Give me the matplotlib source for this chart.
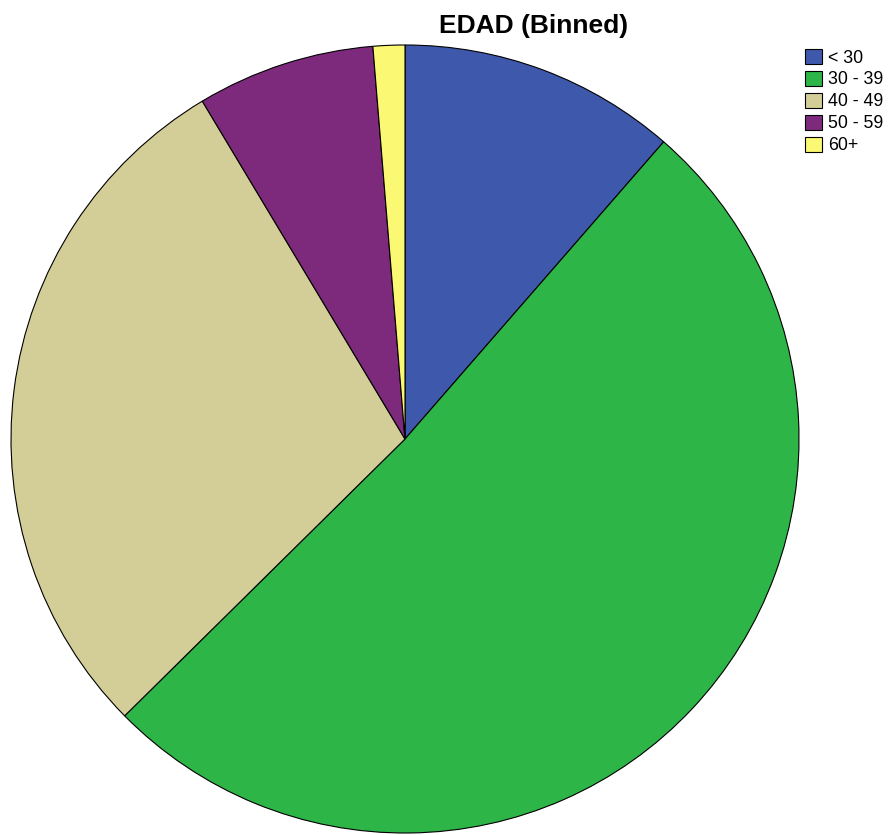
import matplotlib.pyplot as plt
from matplotlib.patches import Patch

plt.rcParams['font.family'] = ['Liberation Sans', 'DejaVu Sans']

labels = ['< 30', '30 - 39', '40 - 49', '50 - 59', '60+']
percent = [11.4, 51.2, 28.8, 7.3, 1.3]
colors = ['#3E58AC', '#2EB548', '#D3CE97', '#7D2A7D', '#FBF873']

fig = plt.figure(figsize=(8.88, 8.35), dpi=100)
ax = fig.add_axes([11 / 888, 2 / 835, 788 / 888, 788 / 835])
ax.pie(percent, colors=colors, startangle=90, counterclock=False, radius=1,
       wedgeprops=dict(edgecolor='black', linewidth=0.8))
ax.set_xlim(-1.0, 1.0)
ax.set_ylim(-1.0, 1.0)
ax.set_aspect('equal')
ax.axis('off')

# title sits right of the pie centre
fig.text(534 / 888, 1 - 33 / 835, 'EDAD (Binned)', ha='center', va='baseline',
         fontsize=19, fontweight='bold')

handles = [Patch(facecolor=c, edgecolor='black', linewidth=0.8) for c in colors]
fig.legend(handles, labels, loc='upper left', bbox_to_anchor=(805 / 888, 1 - 49 / 835),
           frameon=False, fontsize=12.8, handlelength=0.95, handleheight=0.9,
           handletextpad=0.33, labelspacing=0.25, borderaxespad=0, borderpad=0)

fig.savefig('out.png', dpi=100)
